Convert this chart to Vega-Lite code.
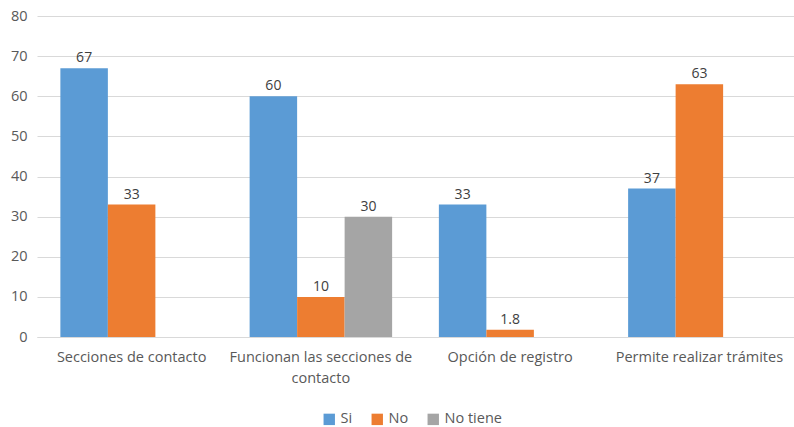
{
  "$schema": "https://vega.github.io/schema/vega-lite/v6.json",
  "width": 757,
  "height": 321,
  "autosize": {"type": "none"},
  "padding": {"left": 37, "top": 16, "right": 0, "bottom": 90},
  "background": "white",
  "data": {
    "values": [
      {"categoria": "Secciones de contacto", "respuesta": "Si", "valor": 67},
      {"categoria": "Secciones de contacto", "respuesta": "No", "valor": 33},
      {"categoria": "Funcionan las secciones de contacto", "respuesta": "Si", "valor": 60},
      {"categoria": "Funcionan las secciones de contacto", "respuesta": "No", "valor": 10},
      {"categoria": "Funcionan las secciones de contacto", "respuesta": "No tiene", "valor": 30},
      {"categoria": "Opción de registro", "respuesta": "Si", "valor": 33},
      {"categoria": "Opción de registro", "respuesta": "No", "valor": 1.8},
      {"categoria": "Permite realizar trámites", "respuesta": "Si", "valor": 37},
      {"categoria": "Permite realizar trámites", "respuesta": "No", "valor": 63}
    ]
  },
  "config": {
    "view": {"stroke": null},
    "font": "Open Sans",
    "axis": {
      "labelFont": "Open Sans",
      "labelColor": "#595959",
      "labelFontSize": 14.5,
      "ticks": false,
      "title": null
    }
  },
  "encoding": {
    "x": {
      "field": "categoria",
      "type": "nominal",
      "sort": null,
      "scale": {"paddingInner": 0.247, "paddingOuter": 0.1235},
      "axis": {
        "labelAngle": 0,
        "labelPadding": 13,
        "labelLineHeight": 21,
        "labelBaseline": "top",
        "labelLimit": 300,
        "domainColor": "#d9d9d9",
        "domainWidth": 1,
        "labelExpr": "datum.label == 'Funcionan las secciones de contacto' ? ['Funcionan las secciones de', 'contacto'] : datum.label"
      }
    },
    "xOffset": {
      "field": "respuesta",
      "type": "nominal",
      "sort": ["Si", "No", "No tiene"],
      "scale": {"domain": ["Si", "No", "No tiene"], "paddingInner": 0, "paddingOuter": 0}
    },
    "y": {
      "field": "valor",
      "type": "quantitative",
      "scale": {"domain": [0, 80], "nice": false},
      "axis": {
        "values": [0, 10, 20, 30, 40, 50, 60, 70, 80],
        "domain": false,
        "gridColor": "#d9d9d9",
        "gridWidth": 1,
        "labelPadding": 10
      }
    }
  },
  "layer": [
    {
      "mark": {"type": "bar"},
      "encoding": {
        "color": {
          "field": "respuesta",
          "type": "nominal",
          "scale": {
            "domain": ["Si", "No", "No tiene"],
            "range": ["#5B9BD5", "#ED7D31", "#A5A5A5"]
          },
          "legend": {
            "title": null,
            "orient": "none",
            "direction": "horizontal",
            "legendX": 285,
            "legendY": 396,
            "symbolType": "square",
            "symbolSize": 130,
            "symbolStrokeWidth": 0,
            "labelFont": "Open Sans",
            "labelFontSize": 14.5,
            "labelColor": "#595959",
            "columnPadding": 17,
            "labelOffset": 4
          }
        }
      }
    },
    {
      "mark": {
        "type": "text",
        "dy": -10,
        "fontSize": 14,
        "font": "Open Sans",
        "color": "#404040"
      },
      "encoding": {
        "text": {"field": "valor", "type": "quantitative"}
      }
    }
  ]
}
